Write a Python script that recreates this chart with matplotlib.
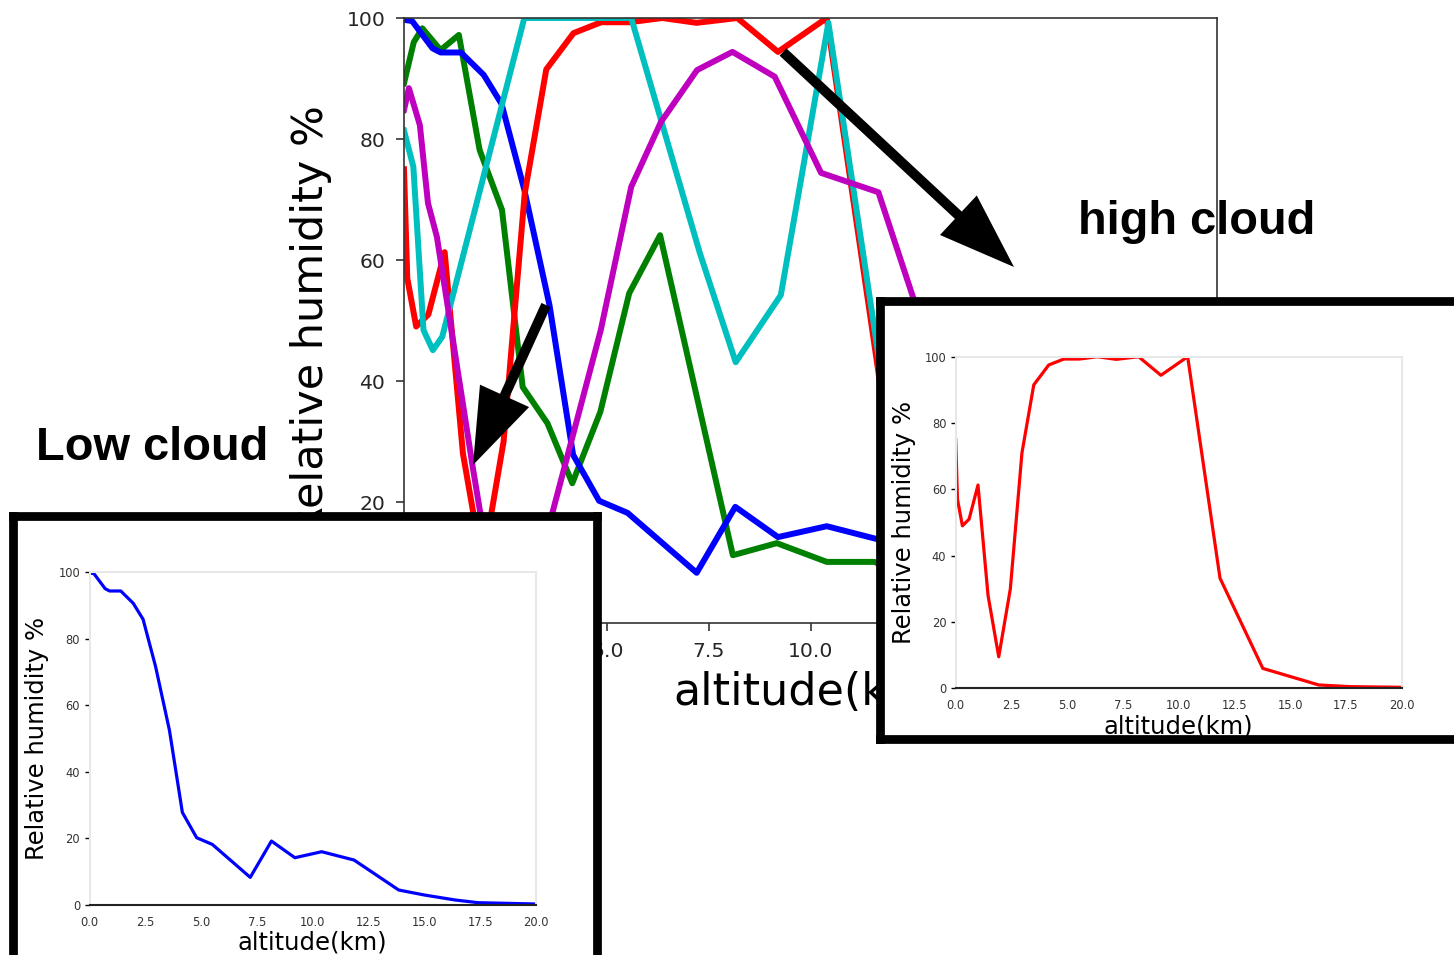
import numpy as np
import matplotlib
matplotlib.use('Agg')
from matplotlib import pyplot as plt
from matplotlib.patches import FancyArrow

# relative humidity profiles (altitude in km, RH in %)
red_alt = [0.0, 0.08, 0.3, 0.6, 1.0, 1.45, 1.93, 2.45, 2.97, 3.5, 4.17, 4.85,
           5.55, 6.35, 7.2, 8.2, 9.2, 10.4, 11.85, 13.77, 16.28, 17.7, 20.0]
red_rh = [75.0, 57.0, 49.0, 51.0, 61.3, 28.0, 9.5, 30.0, 71.0, 91.5, 97.5, 99.3,
          99.3, 100.0, 99.2, 100.0, 94.4, 100.0, 33.2, 6.0, 1.0, 0.5, 0.3]

blue_alt = [0.0, 0.2, 0.7, 0.9, 1.4, 1.96, 2.4, 2.96, 3.58, 4.16, 4.8, 5.5,
            7.2, 8.15, 9.2, 10.4, 11.85, 13.85, 15.0, 16.38, 17.4, 20.0]
blue_rh = [99.7, 99.5, 95.0, 94.3, 94.3, 90.6, 85.8, 71.6, 52.5, 27.8, 20.2, 18.2,
           8.3, 19.2, 14.2, 16.0, 13.5, 4.5, 3.0, 1.5, 0.7, 0.3]

green_alt = [0.0, 0.24, 0.45, 0.9, 1.35, 1.86, 2.41, 2.92, 3.53, 4.14, 4.83, 5.54,
             6.3, 8.09, 9.17, 10.4, 11.57, 13.8, 16.3, 20.0]
green_rh = [89.2, 96.0, 98.3, 94.7, 97.2, 78.2, 68.3, 39.0, 33.0, 23.1, 34.9, 54.5,
            64.1, 11.2, 13.2, 10.1, 10.1, 4.0, 1.2, 0.3]

cyan_alt = [0.0, 0.23, 0.48, 0.71, 0.94, 2.96, 5.59, 7.28, 8.16, 9.27, 10.44,
            11.8, 13.8, 16.3, 20.0]
cyan_rh = [81.4, 75.4, 48.4, 45.1, 47.3, 100.0, 100.0, 61.1, 43.1, 54.2, 99.2,
           38.5, 8.0, 2.0, 0.5]

magenta_alt = [0.0, 0.12, 0.39, 0.59, 0.81, 1.69, 2.25, 3.0, 3.65, 4.84, 5.59,
               6.32, 7.21, 8.08, 9.12, 10.26, 11.67, 12.52, 13.8, 16.3, 20.0]
magenta_rh = [84.8, 88.4, 82.3, 69.4, 63.8, 25.8, 3.0, 2.0, 18.2, 48.4, 72.1,
              82.8, 91.4, 94.4, 90.3, 74.4, 71.2, 53.9, 30.0, 5.0, 1.0]

x_ticks = [0, 2.5, 5, 7.5, 10, 12.5, 15, 17.5, 20]
y_ticks = [0, 20, 40, 60, 80, 100]

W, H = 1454, 955
fig = plt.figure(figsize=(W / 100, H / 100), dpi=100)


def px_axes(x0, y0, x1, y1, **kw):
    # box given in pixels, measured from the top-left corner
    return fig.add_axes([x0 / W, 1 - y1 / H, (x1 - x0) / W, (y1 - y0) / H], **kw)


# main plot with all profiles
ax = px_axes(404, 18, 1217, 623, zorder=1)
ax.plot(green_alt, green_rh, color='g', lw=4.3)
ax.plot(blue_alt, blue_rh, color='b', lw=4.3)
ax.plot(red_alt, red_rh, color='r', lw=4.3)
ax.plot(cyan_alt, cyan_rh, color='c', lw=4.3)
ax.plot(magenta_alt, magenta_rh, color='m', lw=4.3)
ax.set_xlim(0, 20)
ax.set_ylim(0, 100)
ax.set_xticks(x_ticks)
ax.set_yticks(y_ticks)
ax.xaxis.set_major_formatter(matplotlib.ticker.FormatStrFormatter('%.1f'))
ax.tick_params(labelsize=14.7, length=6, width=1.2, pad=7.5,
               color='#333333', labelcolor='#262626')
for s in ax.spines.values():
    s.set_linewidth(1.2)
    s.set_color('#333333')
ax.set_xlabel('altitude(km)', fontsize=32)
ax.set_ylabel('Relative humidity %', fontsize=31)
ax.xaxis.set_label_coords(0.5, -0.08)
ax.yaxis.set_label_coords(-0.089, 0.5)

# overlay in pixel units for arrows and captions
ov = fig.add_axes([0, 0, 1, 1], zorder=2)
ov.set_xlim(0, W)
ov.set_ylim(H, 0)
ov.axis('off')
ov.patch.set_alpha(0)
ov.add_patch(FancyArrow(783, 52, 231, 215, width=10, head_width=54,
                        head_length=76, length_includes_head=True,
                        color='black', lw=0))
ov.add_patch(FancyArrow(546, 305, -73, 160, width=10, head_width=54,
                        head_length=76, length_includes_head=True,
                        color='black', lw=0))
ov.text(1078, 233.5, 'high cloud', fontsize=33.8, fontweight='bold',
        family='Liberation Sans', va='baseline', ha='left')
ov.text(36, 460, 'Low cloud', fontsize=33.8, fontweight='bold',
        family='Liberation Sans', va='baseline', ha='left')


def frame(x0, y0, x1, y1):
    fr = px_axes(x0, y0, x1, y1, zorder=3)
    fr.set_xticks([])
    fr.set_yticks([])
    fr.set_facecolor('white')
    for s in fr.spines.values():
        s.set_linewidth(6.3)
        s.set_color('black')
    return fr


def inset(x0, y0, x1, y1, alt, rh, color):
    ia = px_axes(x0, y0, x1, y1, zorder=4)
    ia.plot(alt, rh, color=color, lw=2.3)
    ia.set_xlim(0, 20)
    ia.set_ylim(0, 100)
    ia.set_xticks(x_ticks)
    ia.set_yticks(y_ticks)
    ia.xaxis.set_major_formatter(matplotlib.ticker.FormatStrFormatter('%.1f'))
    ia.tick_params(axis='x', length=0, labelsize=8.3, pad=8, labelcolor='#333333')
    ia.tick_params(axis='y', length=3.6, width=1.0, labelsize=8.3, pad=3.2,
                   labelcolor='#333333')
    for s in ia.spines.values():
        s.set_color('#e8e8e8')
        s.set_linewidth(1.5)
    ia.spines['bottom'].set_color('#222222')
    ia.set_xlabel('altitude(km)', fontsize=17.5)
    ia.set_ylabel('Relative humidity %', fontsize=17.5)
    ia.xaxis.set_label_coords(0.5, -0.078)
    ia.yaxis.set_label_coords(-0.09, 0.5)
    return ia


frame(12.5, 515.5, 597, 962)
inset(89.5, 572, 536, 905, blue_alt, blue_rh, 'b')

frame(880, 301, 1465, 739)
inset(955.7, 356.7, 1401.8, 688.3, red_alt, red_rh, 'r')

fig.savefig('out.png', dpi=100)
